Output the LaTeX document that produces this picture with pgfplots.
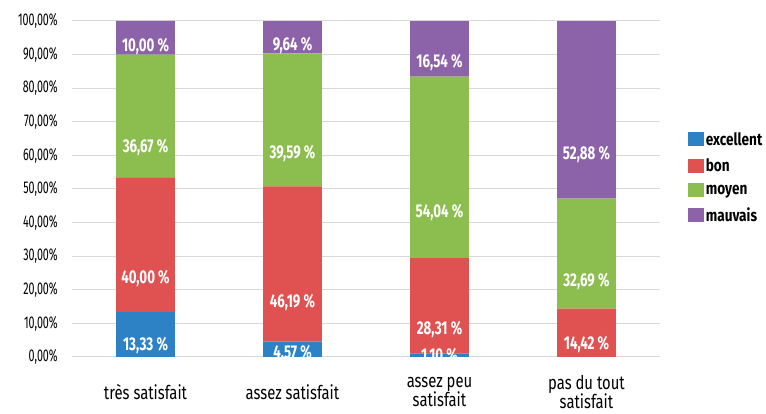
\documentclass[border=0pt]{standalone}
\usepackage{pgfplots}
\pgfplotsset{compat=1.18}
\usepackage{fontspec}
\setmainfont{Fira Sans}[FakeStretch=0.75]
\newfontfamily\tickfont{Fira Sans}[FakeStretch=0.63]
\newfontfamily\catfont{Fira Sans}[FakeStretch=0.78]
\newfontfamily\labfont{Fira Sans}[FakeStretch=0.72]
\newfontfamily\legfont{Fira Sans}[FakeStretch=0.8]
\definecolor{cblue}{RGB}{44,130,196}
\definecolor{cred}{RGB}{224,82,82}
\definecolor{cgreen}{RGB}{140,189,79}
\definecolor{cpurple}{RGB}{140,98,169}
\definecolor{cgrid}{RGB}{217,217,217}
\begin{document}
\begin{tikzpicture}
\useasboundingbox (-72pt,-57pt) rectangle (694pt,357pt);
\begin{axis}[
  at={(0,0)}, anchor=south west,
  scale only axis, width=588pt, height=336pt,
  ybar stacked, bar width=0.4,
  xmin=-0.5, xmax=3.5, ymin=0, ymax=100,
  enlargelimits=false,
  xtick={0,1,2,3},
  xticklabels={très satisfait, assez satisfait, {assez peu\\satisfait}, {pas du tout\\satisfait}},
  xticklabel style={anchor=center, align=center, yshift=-35pt, font=\catfont\fontsize{19}{19.5}\selectfont},
  ytick={0,10,...,100},
  /pgf/number format/assume math mode=true,
  yticklabel={\pgfmathprintnumber[fixed,fixed zerofill,precision=2,use comma]{\tick}\%},
  yticklabel style={anchor=east, inner sep=0pt, xshift=-14pt, font=\tickfont\fontsize{17}{20}\selectfont},
  axis line style={draw=none},
  major tick length=0pt,
  ymajorgrids, grid style={cgrid, line width=1pt},
  point meta=explicit symbolic,
  nodes near coords,
  visualization depends on={rawy \as \myrawy},
  every node near coord/.append style={font=\labfont\bfseries\fontsize{18.5}{20}\selectfont, text=white, anchor=center, shift={(axis direction cs:0,-\myrawy/4)}},
  legend style={at={(1.047,0.534)}, anchor=west, draw=none, fill=none, font=\legfont\bfseries\fontsize{17}{19}\selectfont, row sep=8pt, inner sep=0pt},
  legend cell align=left,
  legend image code/.code={\fill[#1,draw=none] (0pt,-7pt) rectangle (16pt,7pt);},
]
\addplot[fill=cblue, draw=none] coordinates {(0,13.33)[13,33 \%] (1,4.57)[4,57 \%] (2,1.10)[1,10 \%] (3,0)[]};
\addplot[fill=cred, draw=none] coordinates {(0,40.00)[40,00 \%] (1,46.19)[46,19 \%] (2,28.31)[28,31 \%] (3,14.42)[14,42 \%]};
\addplot[fill=cgreen, draw=none] coordinates {(0,36.67)[36,67 \%] (1,39.59)[39,59 \%] (2,54.04)[54,04 \%] (3,32.69)[32,69 \%]};
\addplot[fill=cpurple, draw=none] coordinates {(0,10.00)[10,00 \%] (1,9.64)[9,64 \%] (2,16.54)[16,54 \%] (3,52.88)[52,88 \%]};
\legend{excellent, bon, moyen, mauvais}
\end{axis}
\end{tikzpicture}
\end{document}
